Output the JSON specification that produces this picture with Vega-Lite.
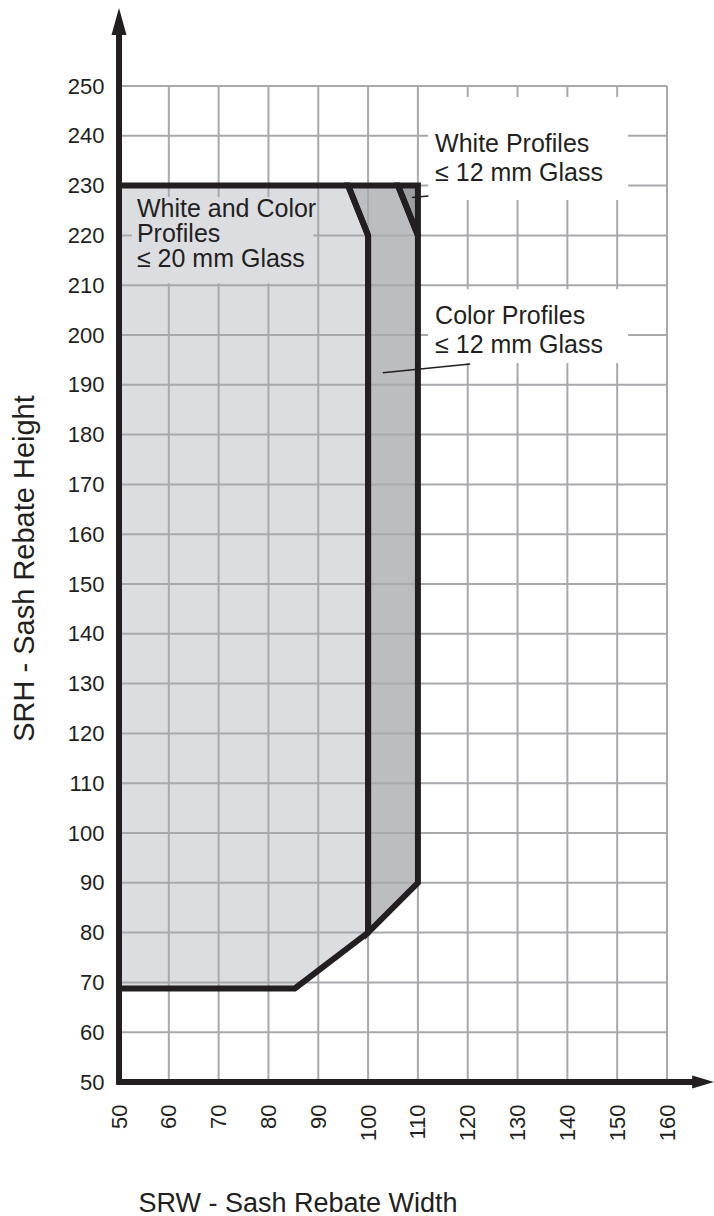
{
  "$schema": "https://vega.github.io/schema/vega-lite/v6.json",
  "width": 548,
  "height": 996,
  "autosize": "none",
  "padding": {"left": 119, "top": 86, "right": 47, "bottom": 134},
  "background": "white",
  "config": {"view": {"stroke": null}, "font": "Liberation Sans"},
  "datasets": {
    "poly": [
      {"poly": "light", "i": 0, "x": 50, "y": 68.8},
      {"poly": "light", "i": 1, "x": 50, "y": 230},
      {"poly": "light", "i": 2, "x": 96, "y": 230},
      {"poly": "light", "i": 3, "x": 100, "y": 220},
      {"poly": "light", "i": 4, "x": 100, "y": 80},
      {"poly": "light", "i": 5, "x": 85.3, "y": 68.8},
      {"poly": "light", "i": 6, "x": 50, "y": 68.8},
      {"poly": "medium", "i": 0, "x": 100, "y": 220},
      {"poly": "medium", "i": 1, "x": 96, "y": 230},
      {"poly": "medium", "i": 2, "x": 106, "y": 230},
      {"poly": "medium", "i": 3, "x": 110, "y": 220},
      {"poly": "medium", "i": 4, "x": 110, "y": 90},
      {"poly": "medium", "i": 5, "x": 100, "y": 80},
      {"poly": "medium", "i": 6, "x": 100, "y": 220},
      {"poly": "dark", "i": 0, "x": 110, "y": 220},
      {"poly": "dark", "i": 1, "x": 106, "y": 230},
      {"poly": "dark", "i": 2, "x": 110, "y": 230},
      {"poly": "dark", "i": 3, "x": 110, "y": 220}
    ],
    "grid": [
      {"x": 50, "x2": 50, "y": 50, "y2": 250},
      {"x": 60, "x2": 60, "y": 50, "y2": 250},
      {"x": 70, "x2": 70, "y": 50, "y2": 250},
      {"x": 80, "x2": 80, "y": 50, "y2": 250},
      {"x": 90, "x2": 90, "y": 50, "y2": 250},
      {"x": 100, "x2": 100, "y": 50, "y2": 250},
      {"x": 110, "x2": 110, "y": 50, "y2": 250},
      {"x": 120, "x2": 120, "y": 50, "y2": 250},
      {"x": 130, "x2": 130, "y": 50, "y2": 250},
      {"x": 140, "x2": 140, "y": 50, "y2": 250},
      {"x": 150, "x2": 150, "y": 50, "y2": 250},
      {"x": 160, "x2": 160, "y": 50, "y2": 250},
      {"x": 50, "x2": 160, "y": 60, "y2": 60},
      {"x": 50, "x2": 160, "y": 70, "y2": 70},
      {"x": 50, "x2": 160, "y": 80, "y2": 80},
      {"x": 50, "x2": 160, "y": 90, "y2": 90},
      {"x": 50, "x2": 160, "y": 100, "y2": 100},
      {"x": 50, "x2": 160, "y": 110, "y2": 110},
      {"x": 50, "x2": 160, "y": 120, "y2": 120},
      {"x": 50, "x2": 160, "y": 130, "y2": 130},
      {"x": 50, "x2": 160, "y": 140, "y2": 140},
      {"x": 50, "x2": 160, "y": 150, "y2": 150},
      {"x": 50, "x2": 160, "y": 160, "y2": 160},
      {"x": 50, "x2": 160, "y": 170, "y2": 170},
      {"x": 50, "x2": 160, "y": 180, "y2": 180},
      {"x": 50, "x2": 160, "y": 190, "y2": 190},
      {"x": 50, "x2": 160, "y": 200, "y2": 200},
      {"x": 50, "x2": 160, "y": 210, "y2": 210},
      {"x": 50, "x2": 160, "y": 220, "y2": 220},
      {"x": 50, "x2": 160, "y": 230, "y2": 230},
      {"x": 50, "x2": 160, "y": 240, "y2": 240},
      {"x": 50, "x2": 160, "y": 250, "y2": 250}
    ],
    "boxes": [
      {"box": "wc", "x": 52.6, "x2": 89, "y": 210.4, "y2": 227.7},
      {"box": "wp", "x": 112.05, "x2": 152.2, "y": 227.1, "y2": 247.8},
      {"box": "cp", "x": 112.05, "x2": 152.2, "y": 194.4, "y2": 209.2}
    ],
    "leaders": [
      {"x": 108.8, "x2": 112.1, "y": 227.6, "y2": 227.9},
      {"x": 102.95, "x2": 120.5, "y": 192.4, "y2": 194.2}
    ],
    "axislines": [
      {"x": 49.5, "x2": 166, "y": 50, "y2": 50},
      {"x": 50, "x2": 50, "y": 49.5, "y2": 262}
    ],
    "labels": [
      {"t": "White and Color", "x": 53.6, "y": 223.6},
      {"t": "Profiles", "x": 53.6, "y": 218.65},
      {"t": "≤ 20 mm Glass", "x": 53.6, "y": 213.7},
      {"t": "White Profiles", "x": 113.45, "y": 236.8},
      {"t": "≤ 12 mm Glass", "x": 113.45, "y": 231.0},
      {"t": "Color Profiles", "x": 113.45, "y": 202.2},
      {"t": "≤ 12 mm Glass", "x": 113.45, "y": 196.4}
    ]
  },
  "encoding": {
    "x": {
      "field": "x", "type": "quantitative",
      "scale": {"domain": [50, 160], "nice": false, "zero": false},
      "axis": {
        "values": [50, 60, 70, 80, 90, 100, 110, 120, 130, 140, 150, 160],
        "domain": false, "ticks": false, "grid": false,
        "labelAngle": 270, "labelPadding": 22, "labelFontSize": 22,
        "labelColor": "#231f20", "labelFont": "Liberation Sans",
        "labelFlush": false, "labelOverlap": false, "labelBound": false,
        "title": "SRW - Sash Rebate Width", "titleFont": "Liberation Sans",
        "titleFontSize": 27, "titleFontWeight": "normal", "titleColor": "#231f20",
        "titleX": 19, "titleY": 129, "titleAlign": "left", "titleBaseline": "alphabetic", "titleAngle": 0
      }
    },
    "y": {
      "field": "y", "type": "quantitative",
      "scale": {"domain": [50, 250], "nice": false, "zero": false},
      "axis": {
        "values": [50, 60, 70, 80, 90, 100, 110, 120, 130, 140, 150, 160, 170, 180, 190, 200, 210, 220, 230, 240, 250],
        "domain": false, "ticks": false, "grid": false,
        "labelPadding": 15, "labelFontSize": 22,
        "labelColor": "#231f20", "labelFont": "Liberation Sans",
        "labelFlush": false, "labelOverlap": false, "labelBound": false,
        "title": "SRH - Sash Rebate Height", "titleFont": "Liberation Sans",
        "titleFontSize": 29, "titleFontWeight": "normal", "titleColor": "#231f20",
        "titleX": -86, "titleY": 482, "titleAlign": "center", "titleBaseline": "alphabetic", "titleAngle": 270
      }
    }
  },
  "layer": [
    {
      "data": {"name": "poly"},
      "transform": [{"filter": "datum.poly == 'light'"}],
      "mark": {"type": "line", "fill": "#dcdde0", "strokeWidth": 0, "strokeOpacity": 0},
      "encoding": {"order": {"field": "i", "type": "quantitative"}}
    },
    {
      "data": {"name": "poly"},
      "transform": [{"filter": "datum.poly == 'medium'"}],
      "mark": {"type": "line", "fill": "#bcbdc0", "strokeWidth": 0, "strokeOpacity": 0},
      "encoding": {"order": {"field": "i", "type": "quantitative"}}
    },
    {
      "data": {"name": "poly"},
      "transform": [{"filter": "datum.poly == 'dark'"}],
      "mark": {"type": "line", "fill": "#9d9ea1", "strokeWidth": 0, "strokeOpacity": 0},
      "encoding": {"order": {"field": "i", "type": "quantitative"}}
    },
    {
      "data": {"name": "grid"},
      "mark": {"type": "rule", "color": "#a7a9ac", "strokeWidth": 2},
      "encoding": {"x2": {"field": "x2"}, "y2": {"field": "y2"}}
    },
    {
      "data": {"name": "boxes"},
      "mark": {"type": "rect"},
      "encoding": {
        "x2": {"field": "x2"}, "y2": {"field": "y2"},
        "color": {"field": "box", "type": "nominal", "scale": {"domain": ["wc", "wp", "cp"], "range": ["#dcdde0", "#ffffff", "#ffffff"]}, "legend": null}
      }
    },
    {
      "data": {"name": "poly"},
      "mark": {"type": "line", "stroke": "#231f20", "strokeWidth": 6, "strokeJoin": "miter", "strokeMiterLimit": 10},
      "encoding": {"detail": {"field": "poly"}, "order": {"field": "i", "type": "quantitative"}}
    },
    {
      "data": {"name": "leaders"},
      "mark": {"type": "rule", "color": "#231f20", "strokeWidth": 1.5},
      "encoding": {"x2": {"field": "x2"}, "y2": {"field": "y2"}}
    },
    {
      "data": {"name": "axislines"},
      "mark": {"type": "rule", "color": "#231f20", "strokeWidth": 6},
      "encoding": {"x2": {"field": "x2"}, "y2": {"field": "y2"}}
    },
    {
      "data": {"values": [{"x": 50, "y": 262.95}]},
      "mark": {"type": "point", "shape": "M0,-1L0.556,1L-0.556,1Z", "size": 729, "filled": true, "fill": "#231f20", "opacity": 1, "strokeWidth": 0}
    },
    {
      "data": {"values": [{"x": 167.27, "y": 50}]},
      "mark": {"type": "point", "shape": "M1,0L-1,-0.59L-1,0.59Z", "size": 484, "filled": true, "fill": "#231f20", "opacity": 1, "strokeWidth": 0}
    },
    {
      "data": {"name": "labels"},
      "mark": {"type": "text", "align": "left", "baseline": "alphabetic", "fontSize": 25, "font": "Liberation Sans", "color": "#231f20"},
      "encoding": {"text": {"field": "t"}}
    }
  ]
}
